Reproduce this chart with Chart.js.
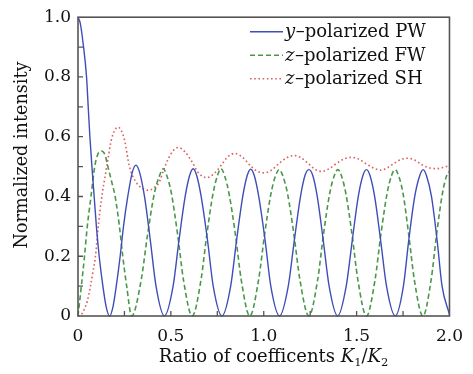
<!DOCTYPE html>
<html><head><meta charset="utf-8">
<script src="https://cdn.jsdelivr.net/npm/chart.js@4.4.1/dist/chart.umd.min.js"></script>
<style>html,body{margin:0;padding:0;background:#fff}</style>
</head><body>
<canvas id="c" width="473" height="374"></canvas>
<script>
// ---- data ----
const pwX = [0,0.012,0.028,0.046,0.055,0.064,0.075,0.087,0.099,0.114,0.134,0.152,0.170,0.188,0.206,0.227,0.245,0.268,0.292,0.312,0.332,0.358,0.390,0.420,0.465,
  0.512,0.543,0.577,0.601,0.620,0.639,0.663,0.698,0.728,0.775,
  0.822,0.853,0.887,0.911,0.930,0.949,0.973,1.008,1.038,1.085,
  1.132,1.164,1.198,1.222,1.243,1.264,1.288,1.321,1.352,1.398,
  1.444,1.476,1.509,1.534,1.553,1.572,1.597,1.630,1.661,1.708,
  1.752,1.780,1.813,1.840,1.858,1.876,1.903,1.934,1.960,2.0];
const pwY = [1.0,0.98,0.91,0.80,0.70,0.60,0.50,0.40,0.30,0.20,0.10,0.03,0,0.03,0.10,0.20,0.30,0.40,0.48,0.505,0.48,0.40,0.25,0.10,0,
  0.10,0.25,0.40,0.47,0.493,0.47,0.40,0.25,0.10,0,
  0.10,0.25,0.40,0.47,0.491,0.47,0.40,0.25,0.10,0,
  0.10,0.25,0.40,0.47,0.490,0.47,0.40,0.25,0.10,0,
  0.10,0.25,0.40,0.47,0.490,0.47,0.40,0.25,0.10,0,
  0.10,0.25,0.40,0.47,0.490,0.47,0.40,0.25,0.10,0.005];

const fwX = [0,0.018,0.035,0.050,0.070,0.090,0.106,0.126,0.145,0.161,0.181,0.200,0.223,0.241,0.262,0.289,
  0.340,0.374,0.411,0.439,0.459,0.478,0.503,0.537,0.568,0.615,
  0.662,0.693,0.727,0.751,0.770,0.789,0.813,0.848,0.879,0.925,
  0.972,1.004,1.039,1.064,1.083,1.102,1.128,1.163,1.195,1.243,
  1.290,1.321,1.355,1.380,1.399,1.418,1.442,1.476,1.507,1.553,
  1.599,1.630,1.664,1.688,1.707,1.726,1.750,1.781,1.811,1.857,
  1.901,1.930,1.962,1.985,2.0];
const fwY = [0,0.10,0.20,0.30,0.40,0.50,0.54,0.552,0.54,0.50,0.45,0.40,0.30,0.20,0.10,0,
  0.12,0.27,0.41,0.47,0.493,0.47,0.41,0.27,0.12,0,
  0.12,0.27,0.41,0.47,0.493,0.47,0.41,0.27,0.12,0,
  0.12,0.27,0.41,0.47,0.490,0.47,0.41,0.27,0.12,0,
  0.12,0.27,0.41,0.47,0.490,0.47,0.41,0.27,0.12,0,
  0.12,0.27,0.41,0.47,0.490,0.47,0.41,0.27,0.12,0,
  0.12,0.27,0.41,0.47,0.484];

const shX = [0,0.015,0.032,0.050,0.067,0.081,0.094,0.106,0.117,0.133,0.144,0.160,0.179,0.198,0.215,0.232,0.250,0.277,0.310,0.345,0.383,
  0.410,0.436,0.462,0.489,0.515,0.540,0.575,0.613,0.650,0.693,0.735,0.773,0.805,0.844,0.885,0.925,0.963,1.004,
  1.045,1.085,1.125,1.163,1.200,1.240,1.278,1.314,1.355,1.395,1.435,1.473,1.515,1.555,1.595,1.633,
  1.670,1.705,1.740,1.775,1.815,1.855,1.890,1.928,1.965,2.0];
const shY = [0,0.003,0.02,0.05,0.10,0.15,0.20,0.28,0.345,0.42,0.46,0.52,0.588,0.622,0.632,0.622,0.59,0.50,0.45,0.428,0.421,
  0.43,0.446,0.49,0.53,0.555,0.564,0.55,0.517,0.478,0.463,0.478,0.506,0.532,0.544,0.532,0.505,0.485,0.479,
  0.49,0.512,0.53,0.537,0.53,0.51,0.49,0.484,0.494,0.512,0.526,0.531,0.524,0.508,0.494,0.488,
  0.498,0.512,0.524,0.528,0.521,0.505,0.496,0.493,0.497,0.503];

const seriesVar = ['y', 'z', 'z'];
const seriesText = ['\u2013polarized PW', '\u2013polarized FW', '\u2013polarized SH'];
const xTickLabels = ['0', '0.5', '1.0', '1.5', '2.0'];
const yTickLabels = ['0', '0.2', '0.4', '0.6', '0.8', '1.0'];
const xTickMarks = [0.25, 0.5, 0.75, 1.0, 1.25, 1.5, 1.75];
const yTickMarks = [0.1, 0.2, 0.3, 0.4, 0.5, 0.6, 0.7, 0.8, 0.9];
const yTitle = 'Normalized intensity';
const xTitleParts = [['Ratio of coefficents ', 'n'], ['K', 'i'], ['1', 's'], ['/', 'n'], ['K', 'i'], ['2', 's']];

// ---- styles ----
const FONT = '"DejaVu Serif", serif';
const colors = ['#3f4db6', '#4a974a', '#dd5f5f'];
const dashes = [[], [5, 3], [1.6, 2.6]];
const widths = [1.4, 1.6, 1.6];

const toPts = (xs, ys) => xs.map((x, i) => ({x: x, y: ys[i]}));
const series = [toPts(pwX, pwY), toPts(fwX, fwY), toPts(shX, shY)];

const decor = {
  id: 'decor',
  afterDraw(chart) {
    const ctx = chart.ctx, a = chart.chartArea, xs = chart.scales.x, ys = chart.scales.y;
    ctx.save();
    // frame
    ctx.strokeStyle = '#555'; ctx.lineWidth = 1.6; ctx.setLineDash([]);
    ctx.strokeRect(a.left, a.top, a.right - a.left, a.bottom - a.top);
    // inward ticks
    ctx.lineWidth = 1.3;
    ctx.beginPath();
    yTickMarks.forEach(v => { const p = ys.getPixelForValue(v); ctx.moveTo(a.left, p); ctx.lineTo(a.left + 5, p); });
    xTickMarks.forEach(v => { const p = xs.getPixelForValue(v); ctx.moveTo(p, a.bottom); ctx.lineTo(p, a.bottom - 5); });
    ctx.stroke();
    // y title
    ctx.fillStyle = '#111';
    ctx.font = '17.6px ' + FONT;
    ctx.save();
    ctx.translate(26.5, 155);
    ctx.rotate(-Math.PI / 2);
    ctx.textAlign = 'center'; ctx.textBaseline = 'alphabetic';
    ctx.fillText(yTitle, 0, 0);
    ctx.restore();
    // x title with italic K and subscripts
    const fontOf = k => k === 'i' ? 'italic 18px ' + FONT : (k === 's' ? '11.5px ' + FONT : '18px ' + FONT);
    let total = 0;
    xTitleParts.forEach(([t, k]) => { ctx.font = fontOf(k); total += ctx.measureText(t).width; });
    let x = 273.5 - total / 2; const base = 362;
    ctx.textAlign = 'left'; ctx.textBaseline = 'alphabetic';
    xTitleParts.forEach(([t, k]) => {
      ctx.font = fontOf(k);
      ctx.fillText(t, x, k === 's' ? base + 4 : base);
      x += ctx.measureText(t).width;
    });
    // legend
    const baselines = [37.3, 60.8, 84.3];
    baselines.forEach((b, i) => {
      ctx.strokeStyle = colors[i]; ctx.lineWidth = widths[i]; ctx.setLineDash(dashes[i]);
      ctx.beginPath(); ctx.moveTo(250, b - 5.5); ctx.lineTo(283, b - 5.5); ctx.stroke();
      ctx.setLineDash([]);
      let tx = 285;
      ctx.font = 'italic 18px ' + FONT; ctx.fillText(seriesVar[i], tx, b);
      tx += ctx.measureText(seriesVar[i]).width + 0.5;
      ctx.font = '18px ' + FONT; ctx.fillText(seriesText[i], tx, b);
    });
    ctx.restore();
  }
};

new Chart(document.getElementById('c'), {
  type: 'line',
  data: {
    datasets: series.map((d, i) => ({
      label: seriesVar[i] + seriesText[i],
      data: d,
      borderColor: colors[i],
      borderWidth: widths[i],
      borderDash: dashes[i],
      pointRadius: 0,
      fill: false,
      cubicInterpolationMode: 'monotone',
      clip: 3
    }))
  },
  options: {
    responsive: false,
    devicePixelRatio: 1,
    animation: false,
    layout: {padding: {left: 0, right: 19, top: 11, bottom: 0}},
    plugins: {legend: {display: false}, tooltip: {enabled: false}},
    scales: {
      x: {
        type: 'linear', min: 0, max: 2,
        grid: {display: false, drawTicks: false}, border: {display: false},
        ticks: {stepSize: 0.5, autoSkip: false, maxRotation: 0, padding: 10, color: '#111',
          font: {family: FONT, size: 17},
          callback: v => xTickLabels[Math.round(v / 0.5)]},
        afterFit: s => { s.height = 58; }
      },
      y: {
        min: 0, max: 1,
        grid: {display: false, drawTicks: false}, border: {display: false},
        ticks: {stepSize: 0.2, padding: 7, color: '#111',
          font: {family: FONT, size: 17},
          callback: v => yTickLabels[Math.round(v / 0.2)]},
        afterFit: s => { s.width = 78; }
      }
    }
  },
  plugins: [decor]
});
</script>
</body></html>
